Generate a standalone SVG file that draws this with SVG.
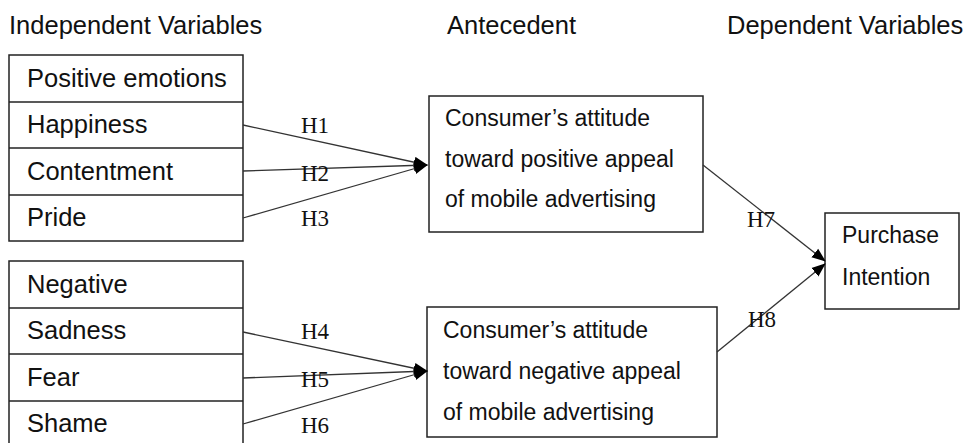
<svg xmlns="http://www.w3.org/2000/svg" width="971" height="443" viewBox="0 0 971 443">
<style>
.hdr{font-family:"Liberation Sans",Arial,sans-serif;font-size:25.5px;fill:#111}
.cell{font-family:"Liberation Sans",Arial,sans-serif;font-size:25.5px;fill:#111}
.box{font-family:"Liberation Sans",Arial,sans-serif;font-size:23px;fill:#111}
.hyp{font-family:"Liberation Serif","Times New Roman",serif;font-size:23px;fill:#111}
.frame{fill:#fff;stroke:#222;stroke-width:1.5}
.conn{stroke:#333;stroke-width:1.3;fill:none;marker-end:url(#arrow)}
</style>
<defs>
<marker id="arrow" markerWidth="14" markerHeight="12" refX="13" refY="5.5" orient="auto" markerUnits="userSpaceOnUse" viewBox="0 0 14 11">
<path d="M0,0 L14,5.5 L0,11 z" fill="#000"/>
</marker>
</defs>
<rect width="971" height="443" fill="#fff"/>
<g id="headers">
<text class="hdr" x="9" y="34">Independent Variables</text>
<text class="hdr" x="447" y="34">Antecedent</text>
<text class="hdr" x="727" y="34">Dependent Variables</text>
</g>
<g id="positive-emotions">
<rect class="frame" x="9" y="55" width="234" height="186"/>
<line x1="9" y1="102" x2="243" y2="102" stroke="#222" stroke-width="1.5"/>
<line x1="9" y1="148" x2="243" y2="148" stroke="#222" stroke-width="1.5"/>
<line x1="9" y1="195" x2="243" y2="195" stroke="#222" stroke-width="1.5"/>
<text class="cell" x="27" y="87">Positive emotions</text>
<text class="cell" x="27" y="133">Happiness</text>
<text class="cell" x="27" y="180">Contentment</text>
<text class="cell" x="27" y="226">Pride</text>
</g>
<g id="negative-emotions">
<rect class="frame" x="9" y="261" width="234" height="190"/>
<line x1="9" y1="308" x2="243" y2="308" stroke="#222" stroke-width="1.5"/>
<line x1="9" y1="354" x2="243" y2="354" stroke="#222" stroke-width="1.5"/>
<line x1="9" y1="401" x2="243" y2="401" stroke="#222" stroke-width="1.5"/>
<text class="cell" x="27" y="293">Negative</text>
<text class="cell" x="27" y="339">Sadness</text>
<text class="cell" x="27" y="386">Fear</text>
<text class="cell" x="27" y="432">Shame</text>
</g>
<g id="positive-attitude">
<rect class="frame" x="429" y="96" width="274" height="136"/>
<text class="box" x="445" y="126">Consumer’s attitude</text>
<text class="box" x="445" y="167">toward positive appeal</text>
<text class="box" x="445" y="207">of mobile advertising</text>
</g>
<g id="negative-attitude">
<rect class="frame" x="427" y="307" width="290" height="130"/>
<text class="box" x="443" y="338">Consumer’s attitude</text>
<text class="box" x="443" y="379">toward negative appeal</text>
<text class="box" x="443" y="420">of mobile advertising</text>
</g>
<g id="purchase-intention">
<rect class="frame" x="825" y="213" width="134" height="96"/>
<text class="box" x="842" y="243">Purchase</text>
<text class="box" x="842" y="285">Intention</text>
</g>
<g id="connectors">
<line class="conn" x1="243" y1="125" x2="427" y2="165"/>
<line class="conn" x1="243" y1="171" x2="427" y2="165"/>
<line class="conn" x1="243" y1="218" x2="427" y2="165"/>
<line class="conn" x1="243" y1="332" x2="427" y2="371"/>
<line class="conn" x1="243" y1="378" x2="427" y2="371"/>
<line class="conn" x1="243" y1="424" x2="427" y2="371"/>
<line class="conn" x1="703" y1="165" x2="825" y2="261"/>
<line class="conn" x1="717" y1="352" x2="825" y2="264"/>
</g>
<g id="hypotheses">
<text class="hyp" x="301" y="133">H1</text>
<text class="hyp" x="301" y="181">H2</text>
<text class="hyp" x="301" y="226">H3</text>
<text class="hyp" x="301" y="339">H4</text>
<text class="hyp" x="301" y="387">H5</text>
<text class="hyp" x="301" y="433">H6</text>
<text class="hyp" x="747" y="227">H7</text>
<text class="hyp" x="748" y="327">H8</text>
</g>
</svg>
